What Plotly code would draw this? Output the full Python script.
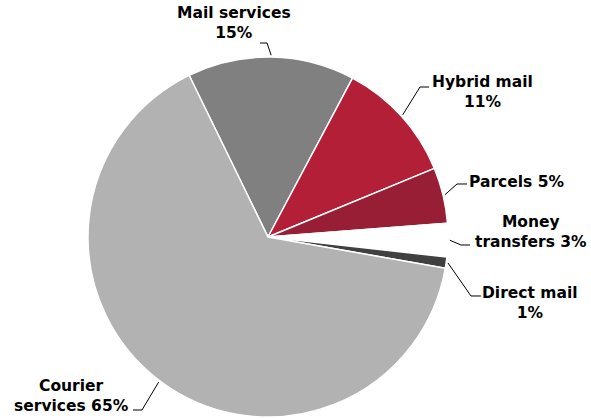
import math
import plotly.graph_objects as go

# Revenue split by service line (%)
categories = ["Mail services", "Hybrid mail", "Parcels", "Money transfers", "Direct mail", "Courier services"]
shares = [15, 11, 5, 3, 1, 65]
label_texts = ["Mail services<br>15%", "Hybrid mail<br>11%", "Parcels 5%",
               "Money<br>transfers 3%", "Direct mail<br>1%", "Courier<br>services 65%"]

colors = ["#808080", "#B21F37", "#981E36", "#FFFFFF", "#404040", "#B2B2B2"]

W, H = 591, 419
CX, CY, R = 268, 237, 180          # pie centre and radius in pixels
ROTATION = -26                      # start angle of first slice (deg, clockwise from 12 o'clock)

# Label placement (pixels): text anchor, leader elbow, leader end next to text
label_layout = [
    dict(x=234, y=23, xanchor="center", elbow=(267, 43), end=(260, 43)),
    dict(x=482, y=92, xanchor="center", elbow=(420, 87), end=(429, 87)),
    dict(x=467, y=182, xanchor="left", elbow=(457, 184), end=(467, 184)),
    dict(x=531, y=232, xanchor="center", elbow=(461, 245), end=(470, 245)),
    dict(x=530, y=303, xanchor="center", elbow=(471, 296), end=(481, 296)),
    dict(x=71, y=396, xanchor="center", elbow=(142, 410), end=(133, 410)),
]

fig = go.Figure(go.Pie(
    labels=categories,
    values=shares,
    sort=False,
    direction="clockwise",
    rotation=ROTATION,
    marker=dict(colors=colors, line=dict(color="#FFFFFF", width=1.5)),
    textinfo="none",
    hoverinfo="label+percent",
    showlegend=False,
    domain=dict(x=[(CX - R) / W, (CX + R) / W], y=[1 - (CY + R) / H, 1 - (CY - R) / H]),
))


def px_to_paper(x, y):
    return x / W, 1 - y / H


total = sum(shares)
cum = 0.0
annotations = []
shapes = []
for val, txt, lay in zip(shares, label_texts, label_layout):
    mid = ROTATION + (cum + val / 2) / total * 360
    cum += val
    a = math.radians(mid)
    sx = CX + R * 1.01 * math.sin(a)
    sy = CY - R * 1.01 * math.cos(a)
    pts = [(sx, sy), lay["elbow"], lay["end"]]
    path = "M " + " L ".join(f"{px_to_paper(*p)[0]:.5f},{px_to_paper(*p)[1]:.5f}" for p in pts)
    shapes.append(dict(type="path", xref="paper", yref="paper", path=path,
                       line=dict(color="#000000", width=1)))
    ax, ay = px_to_paper(lay["x"], lay["y"])
    annotations.append(dict(x=ax, y=ay, xref="paper", yref="paper", text=txt,
                            showarrow=False, xanchor=lay["xanchor"], yanchor="middle",
                            align="center",
                            font=dict(family="DejaVu Sans", size=15.5, color="#000000",
                                      weight="bold")))

fig.update_layout(
    width=W, height=H,
    margin=dict(l=0, r=0, t=0, b=0),
    paper_bgcolor="#FFFFFF",
    plot_bgcolor="#FFFFFF",
    annotations=annotations,
    shapes=shapes,
    font=dict(family="DejaVu Sans"),
)

fig.write_html("out.html")
